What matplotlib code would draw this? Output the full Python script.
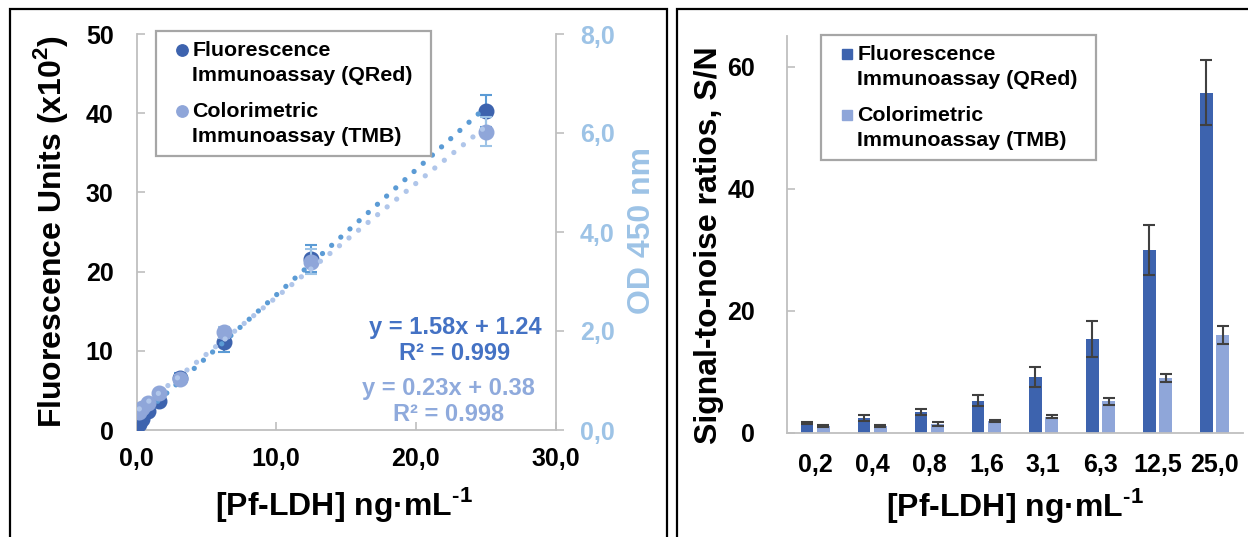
import numpy as np
import matplotlib
matplotlib.use("Agg")
import matplotlib.pyplot as plt
from matplotlib.lines import Line2D
from matplotlib.patches import Rectangle
from matplotlib.legend_handler import HandlerLine2D
from matplotlib.ticker import FuncFormatter

plt.rcParams["font.family"] = ["Liberation Sans", "DejaVu Sans"]
plt.rcParams["font.weight"] = "bold"
plt.rcParams["axes.labelweight"] = "bold"
plt.rcParams["mathtext.fontset"] = "custom"
plt.rcParams["mathtext.rm"] = "Liberation Sans:bold"
plt.rcParams["mathtext.bf"] = "Liberation Sans:bold"

# ---- data ----
conc = [0.2, 0.4, 0.8, 1.6, 3.1, 6.3, 12.5, 25.0]
conc_labels = ["0,2", "0,4", "0,8", "1,6", "3,1", "6,3", "12,5", "25,0"]

# fluorescence (x10^2) and OD 450 nm
fluo = [0.8, 1.4, 2.4, 3.6, 6.6, 11.1, 21.6, 40.3]
fluo_err = [0.1, 0.2, 0.3, 0.4, 0.6, 1.2, 1.7, 2.0]
od = [0.37, 0.45, 0.55, 0.74, 1.04, 1.97, 3.40, 6.03]
od_err = [0.02, 0.03, 0.04, 0.06, 0.08, 0.12, 0.25, 0.29]

# trendlines shown on the chart: slope, intercept, R2
fluo_fit = (1.58, 1.24, 0.999)
od_fit = (0.23, 0.38, 0.998)

# signal-to-noise ratios
sn_fluo = [1.6, 2.45, 3.4, 5.3, 9.2, 15.4, 30.0, 55.8]
sn_fluo_err = [0.2, 0.45, 0.5, 0.9, 1.7, 2.9, 4.1, 5.3]
sn_tmb = [1.1, 1.1, 1.5, 2.0, 2.7, 5.2, 9.0, 16.1]
sn_tmb_err = [0.15, 0.15, 0.3, 0.2, 0.3, 0.6, 0.7, 1.5]

lab_fluo = "Fluorescence\nImmunoassay (QRed)"
lab_tmb = "Colorimetric\nImmunoassay (TMB)"
xlab = "[Pf-LDH] ng·mL$^{‐1}$"

# ---- colours ----
dark = "#3d63ae"
light = "#8fa6d9"
trend_dark = "#5b9bd5"
trend_light = "#b0c6ea"
axis_blue = "#9dc3e6"
grey = "#bfbfbf"

W, H = 1248, 537
fig = plt.figure(figsize=(W / 100, H / 100), dpi=100)


def fx(px):
    return px / W


def fy(py):
    return 1 - py / H


LINESP = 1.42


class FirstLineHandler(HandlerLine2D):
    # put the marker next to the first line of a two-line label
    def create_artists(self, legend, orig_handle, xdescent, ydescent,
                       width, height, fontsize, trans):
        arts = super().create_artists(legend, orig_handle, xdescent, ydescent,
                                      width, height, fontsize, trans)
        for a in arts:
            a.set_ydata(np.asarray(a.get_ydata()) + 0.61 * fontsize)
        return arts


def comma(v, pos):
    return f"{v:.1f}".replace(".", ",")


def legend_on(ax, handles, left, top):
    leg = ax.legend(handles, [lab_fluo, lab_tmb],
                    handler_map={Line2D: FirstLineHandler()},
                    loc="upper left", mode="expand", borderaxespad=0,
                    bbox_to_anchor=(fx(left), fy(top + 123), 275 / W, 123 / H),
                    bbox_transform=fig.transFigure,
                    fontsize=15.4, fancybox=False, framealpha=1,
                    edgecolor="#a6a6a6", borderpad=0.45, handlelength=1.53,
                    handletextpad=-0.29, labelspacing=0.79, numpoints=1)
    for t in leg.get_texts():
        t.set_linespacing(LINESP)
    leg.get_frame().set_linewidth(1.6)
    return leg


# ---------------- left panel: calibration curves ----------------
ax1 = fig.add_axes([fx(136.5), fy(430), (555.5 - 136.5) / W, (430 - 34) / H])
ax2 = ax1.twinx()

ax1.errorbar(conc, fluo, yerr=fluo_err, fmt="o", ms=10.5, color=dark,
             ecolor=trend_dark, elinewidth=1.5, capsize=4.5, capthick=1.5,
             zorder=3)
xs = np.array([conc[0], conc[-1]])
ax1.plot(xs, fluo_fit[0] * xs + fluo_fit[1], color=trend_dark, lw=3.8,
         ls=(0, (0.01, 2.32)), dash_capstyle="round", zorder=4)

ax2.errorbar(conc, od, yerr=od_err, fmt="o", ms=10.5, color=light,
             ecolor=axis_blue, elinewidth=1.5, capsize=4.5, capthick=1.5,
             zorder=3)
ax2.plot(xs, od_fit[0] * xs + od_fit[1], color=trend_light, lw=3.8,
         ls=(0, (0.01, 2.32)), dash_capstyle="round", zorder=4)

ax1.set_xlim(0, 30)
ax1.set_ylim(0, 50)
ax2.set_ylim(0, 8)
ax1.set_xticks([0, 10, 20, 30])
ax1.set_yticks([0, 10, 20, 30, 40, 50])
ax2.set_yticks([0, 2, 4, 6, 8])
ax1.xaxis.set_major_formatter(FuncFormatter(comma))
ax2.yaxis.set_major_formatter(FuncFormatter(comma))

for a in (ax1, ax2):
    for s in a.spines.values():
        s.set_color(grey)
        s.set_linewidth(1.3)
    a.spines["top"].set_visible(False)
ax2.spines["left"].set_visible(False)
ax2.spines["bottom"].set_visible(False)
ax1.spines["right"].set_visible(False)

ax1.tick_params(axis="y", direction="in", length=6, width=1.2, color=grey,
                labelsize=18, pad=16.5)
ax1.tick_params(axis="x", direction="in", length=5.5, width=1.2, color=grey,
                labelsize=18, pad=12.5)
ax2.tick_params(axis="y", direction="out", length=6, width=1.2, color=grey,
                labelsize=18, pad=11.5, labelcolor=axis_blue)

ax1.set_ylabel("Fluorescence Units (x10$^{2}$)", fontsize=23,
               fontweight="bold", va="center")
ax1.yaxis.set_label_coords(-0.205, 0.5)
ax2.set_ylabel("OD 450 nm", fontsize=23, fontweight="bold",
               color=axis_blue, va="center")
ax2.yaxis.set_label_coords(1.206, 0.505)
ax1.set_xlabel(xlab, fontsize=23, fontweight="bold", va="center")
ax1.xaxis.set_label_coords(0.495, -0.189)

eq_dark = "#4472c4"
eq_light = "#8faadc"
ax1.text(0.76, 0.26, f"y = {fluo_fit[0]:.2f}x + {fluo_fit[1]:.2f}",
         transform=ax1.transAxes, ha="center", va="center", fontsize=17,
         color=eq_dark)
ax1.text(0.76, 0.194, f"R² = {fluo_fit[2]:.3f}", transform=ax1.transAxes,
         ha="center", va="center", fontsize=17, color=eq_dark)
ax1.text(0.745, 0.106, f"y = {od_fit[0]:.2f}x + {od_fit[1]:.2f}",
         transform=ax1.transAxes, ha="center", va="center", fontsize=17,
         color=eq_light)
ax1.text(0.745, 0.038, f"R² = {od_fit[2]:.3f}", transform=ax1.transAxes,
         ha="center", va="center", fontsize=17, color=eq_light)

h_fluo = Line2D([], [], marker="o", ls="none", ms=8.2, color=dark)
h_tmb = Line2D([], [], marker="o", ls="none", ms=8.2, color=light)
legend_on(ax2, [h_fluo, h_tmb], 156, 31)

# ---------------- right panel: S/N bars ----------------
ax3 = fig.add_axes([fx(786.7), fy(433), (1243 - 786.7) / W, 396.5 / H])
x = np.arange(len(conc_labels))
bw = 0.223
off = 0.144
ekw = dict(ecolor="#404040", elinewidth=1.5, capthick=1.5)
ax3.bar(x - off, sn_fluo, width=bw, color=dark, yerr=sn_fluo_err,
        capsize=4.3, error_kw=ekw)
ax3.bar(x + off, sn_tmb, width=bw, color=light, yerr=sn_tmb_err,
        capsize=4.3, error_kw=ekw)
ax3.set_xlim(-0.5, len(conc_labels) - 0.5)
ax3.set_ylim(0, 65)
ax3.set_yticks([0, 20, 40, 60])
ax3.set_xticks(x)
ax3.set_xticklabels(conc_labels)
for s in ax3.spines.values():
    s.set_color(grey)
    s.set_linewidth(1.3)
ax3.spines["top"].set_visible(False)
ax3.spines["right"].set_visible(False)
ax3.tick_params(axis="y", direction="in", length=6, width=1.2, color=grey,
                labelsize=18, pad=22.8)
ax3.tick_params(axis="x", length=0, labelsize=18, pad=14.6)
ax3.set_ylabel("Signal-to-noise ratios, S/N", fontsize=23,
               fontweight="bold", va="center")
ax3.yaxis.set_label_coords(-0.170, 0.474)
ax3.set_xlabel(xlab, fontsize=23, fontweight="bold", va="center")
ax3.xaxis.set_label_coords(0.5, -0.182)

hb_fluo = Line2D([], [], marker="s", ls="none", ms=7.3, color=dark)
hb_tmb = Line2D([], [], marker="s", ls="none", ms=7.3, color=light)
legend_on(ax3, [hb_fluo, hb_tmb], 821, 35)

# panel frames
fig.add_artist(Rectangle((fx(10), -0.1), (667 - 10) / W, fy(9) + 0.1,
                         transform=fig.transFigure, fill=False,
                         ec="black", lw=1.6))
fig.add_artist(Rectangle((fx(677), -0.1), 1.0, fy(9) + 0.1,
                         transform=fig.transFigure, fill=False,
                         ec="black", lw=1.6))

fig.savefig("out.png", dpi=100)
